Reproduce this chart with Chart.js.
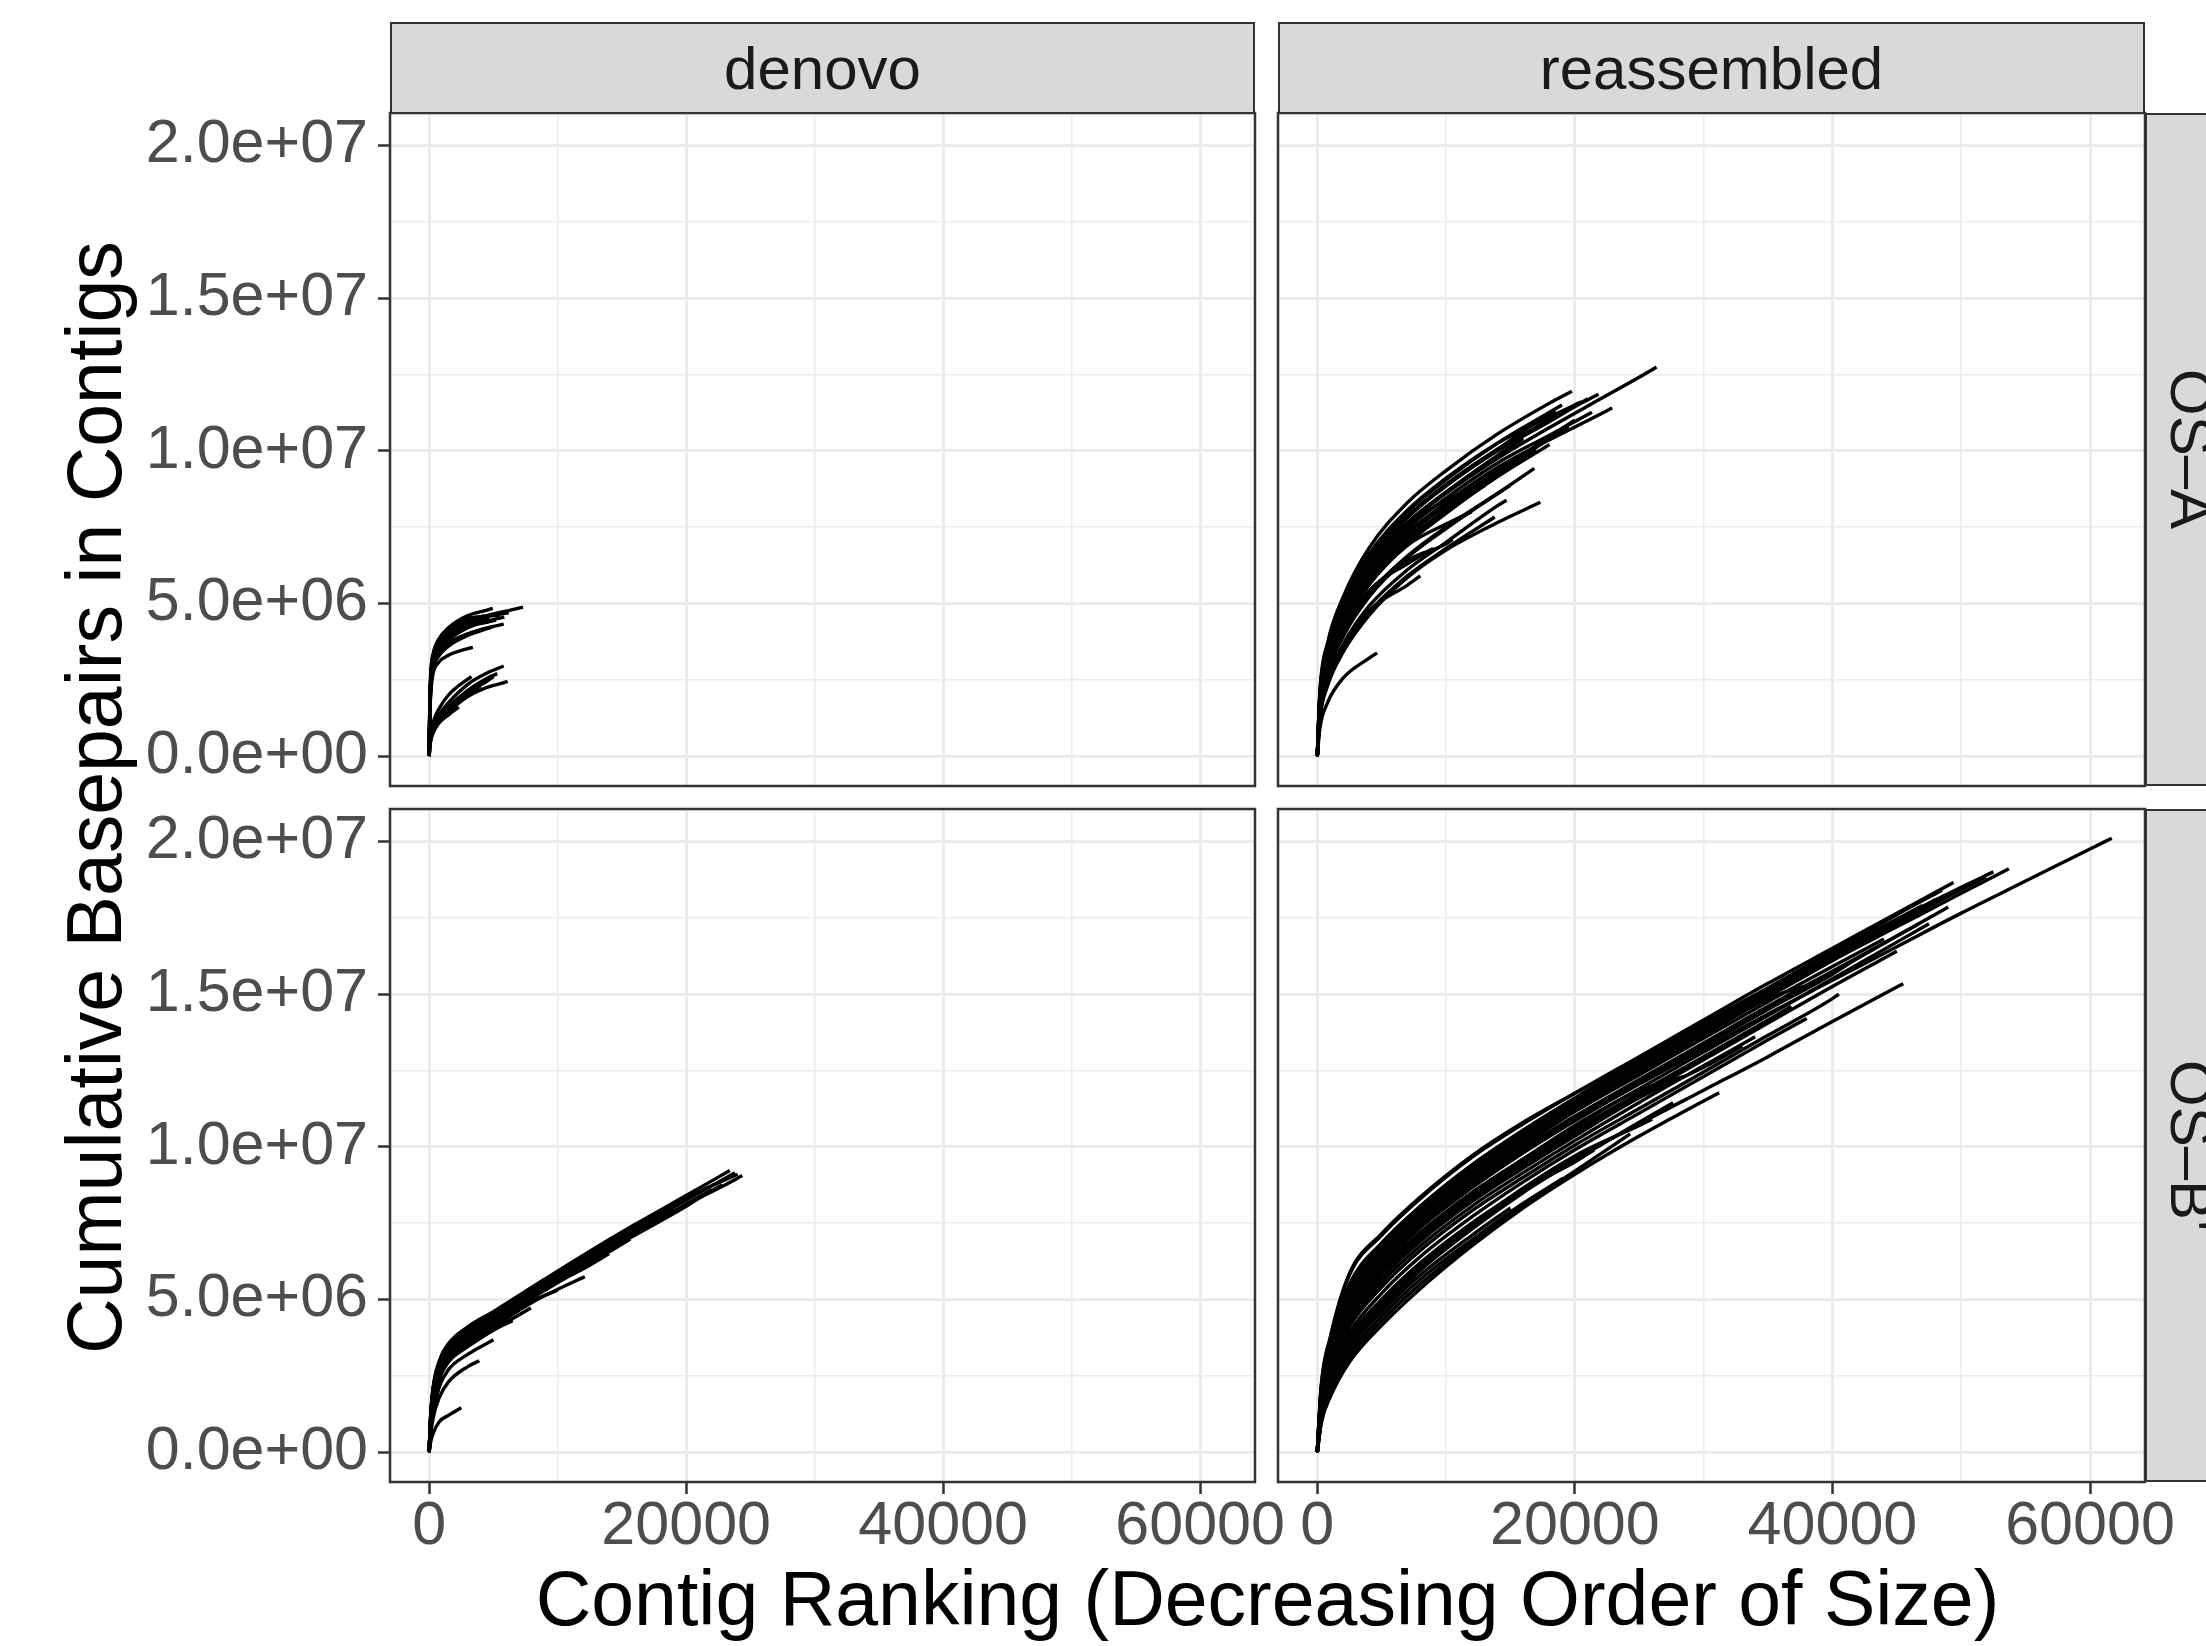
<!DOCTYPE html>
<html>
<head>
<meta charset="utf-8">
<script src="https://cdn.jsdelivr.net/npm/chart.js@4.4.1/dist/chart.umd.min.js"></script>
<style>
  body { margin: 0; width: 2206px; height: 1646px; overflow: hidden; position: relative; background: #fff;
         font-family: "Liberation Sans", Arial, sans-serif; }
  canvas { position: absolute; left: 0; top: 0; }
  .strip { position: absolute; background: #d9d9d9; border: 2.5px solid #333; box-sizing: border-box;
           color: #1a1a1a; font-size: 60px; display: flex; align-items: center; justify-content: center; }
  .strip.row { writing-mode: vertical-rl; }
  .title { position: absolute; color: #000; font-size: 77px; line-height: 77px; white-space: nowrap; }
</style>
</head>
<body>
<script>
// tick positions (shared by all four panels)
const xMajor = [0, 20000, 40000, 60000];
const xMinor = [10000, 30000, 50000];
const yMajor = [0, 5e6, 1e7, 1.5e7, 2e7];
const yMinor = [2.5e6, 7.5e6, 1.25e7, 1.75e7];
const colLabels = ['denovo', 'reassembled'];
const rowLabels = ['OS\u2013A', 'OS\u2013B\''];

// each curve: [last rank, Mbp at last rank, [Mbp at each rank of the grid below the last rank]]
const denovoA_rank = [0, 50, 150, 300, 700, 1500, 3000, 4500, 6000];
const denovoA_curves = [
  [7300, 4.88, [0, 1.6, 2.6, 3.1, 3.5, 3.9, 4.35, 4.6, 4.75]],
  [4950, 4.84, [0, 1.8, 2.9, 3.35, 3.8, 4.2, 4.6, 4.78]],
  [5850, 4.55, [0, 1.5, 2.5, 3.0, 3.4, 3.8, 4.2, 4.42]],
  [5800, 4.32, [0, 1.4, 2.4, 2.9, 3.3, 3.65, 4.0, 4.2]],
  [3400, 3.56, [0, 1.3, 2.2, 2.7, 3.05, 3.3, 3.52]],
  [4300, 4.6, [0, 1.7, 2.75, 3.2, 3.65, 4.05, 4.4]],
  [5200, 4.45, [0, 1.55, 2.55, 3.05, 3.5, 3.9, 4.25, 4.38]],
  [3900, 4.1, [0, 1.45, 2.45, 2.95, 3.35, 3.7, 4.0]],
  [5000, 4.25, [0, 1.35, 2.35, 2.85, 3.25, 3.6, 3.95, 4.17]],
  [6200, 4.7, [0, 1.65, 2.7, 3.15, 3.6, 4.0, 4.4, 4.58, 4.68]],
  [4700, 4.5, [0, 1.6, 2.65, 3.12, 3.55, 3.95, 4.32, 4.48]],
  [5500, 4.62, [0, 1.75, 2.8, 3.28, 3.72, 4.12, 4.5, 4.58]],
  [5800, 2.95, [0, 0.4, 0.7, 0.95, 1.3, 1.75, 2.35, 2.72]],
  [6100, 2.45, [0, 0.35, 0.6, 0.8, 1.1, 1.45, 1.95, 2.25, 2.43]],
  [3300, 2.6, [0, 0.45, 0.8, 1.1, 1.5, 2.0, 2.52]],
  [5300, 2.7, [0, 0.4, 0.65, 0.9, 1.2, 1.6, 2.15, 2.55]],
  [2300, 1.6, [0, 0.3, 0.55, 0.75, 1.05, 1.35]],
  [4000, 2.3, [0, 0.35, 0.6, 0.85, 1.15, 1.5, 2.0]],
  [5000, 2.6, [0, 0.38, 0.62, 0.88, 1.2, 1.6, 2.1, 2.45]]
];

const reassA_rank = [0, 200, 800, 2000, 4000, 7000, 10000, 14000, 18000, 22000, 26000];
const reassA_curves = [
  [26340, 12.74, [0, 1.8, 3.3, 4.7, 6.15, 7.6, 8.6, 9.75, 10.75, 11.7, 12.65]],
  [19770, 11.95, [0, 2.1, 3.7, 5.2, 6.8, 8.3, 9.35, 10.55, 11.55]],
  [21840, 11.85, [0, 1.9, 3.45, 4.9, 6.4, 7.85, 8.9, 10.05, 11.0]],
  [21330, 11.26, [0, 1.7, 3.2, 4.6, 6.05, 7.45, 8.45, 9.6, 10.5]],
  [20500, 11.6, [0, 2.0, 3.6, 5.05, 6.6, 8.05, 9.1, 10.25, 11.1]],
  [22900, 11.4, [0, 1.6, 3.1, 4.45, 5.9, 7.3, 8.3, 9.45, 10.35, 11.2]],
  [18040, 10.2, [0, 1.5, 2.9, 4.2, 5.6, 6.95, 7.95, 9.15, 10.19]],
  [16850, 9.42, [0, 1.4, 2.7, 3.9, 5.2, 6.5, 7.45, 8.6]],
  [17320, 8.31, [0, 1.2, 2.3, 3.4, 4.6, 5.85, 6.75, 7.65]],
  [14700, 8.38, [0, 1.3, 2.5, 3.65, 4.9, 6.1, 7.0, 8.2]],
  [14940, 8.85, [0, 1.5, 2.8, 4.0, 5.3, 6.55, 7.5, 8.6]],
  [13780, 7.83, [0, 1.25, 2.4, 3.5, 4.7, 5.9, 6.8]],
  [4650, 3.38, [0, 0.9, 1.75, 2.55, 3.2]],
  [19000, 11.5, [0, 2.0, 3.55, 5.0, 6.55, 8.0, 9.05, 10.25, 11.25]],
  [20000, 11.0, [0, 1.65, 3.1, 4.45, 5.85, 7.2, 8.2, 9.3, 10.45]],
  [15500, 9.8, [0, 1.7, 3.1, 4.45, 5.9, 7.25, 8.2, 9.35]],
  [12000, 8.0, [0, 1.6, 2.95, 4.25, 5.6, 6.9, 7.6]],
  [16000, 10.4, [0, 1.85, 3.35, 4.75, 6.25, 7.65, 8.65, 9.85]],
  [10500, 7.1, [0, 1.45, 2.75, 3.95, 5.25, 6.4, 6.95]],
  [11000, 8.6, [0, 1.9, 3.4, 4.8, 6.3, 7.55, 8.4]],
  [8000, 5.9, [0, 1.3, 2.45, 3.55, 4.75, 5.6]],
  [18500, 11.3, [0, 1.95, 3.5, 4.95, 6.45, 7.85, 8.85, 10.05, 11.2]],
  [21000, 11.7, [0, 1.85, 3.4, 4.85, 6.35, 7.8, 8.85, 10.0, 10.95]],
  [17000, 10.0, [0, 1.6, 3.0, 4.35, 5.75, 7.1, 8.05, 9.25]],
  [13000, 8.85, [0, 1.75, 3.2, 4.6, 6.05, 7.35, 8.15]],
  [9000, 6.8, [0, 1.5, 2.8, 4.05, 5.4, 6.3]],
  [19500, 10.8, [0, 1.55, 2.95, 4.3, 5.7, 7.05, 8.05, 9.2, 10.4]]
];

const denovoB_rank = [0, 100, 300, 800, 1500, 3000, 5000, 8000, 12000, 16000, 20000, 24000];
const denovoB_curves = [
  [23400, 9.22, [0, 1.1, 2.1, 3.0, 3.55, 4.1, 4.6, 5.4, 6.45, 7.45, 8.4]],
  [24360, 9.06, [0, 1.0, 1.95, 2.85, 3.4, 3.95, 4.45, 5.25, 6.25, 7.2, 8.1, 8.97]],
  [23800, 9.15, [0, 1.05, 2.0, 2.92, 3.48, 4.02, 4.52, 5.32, 6.35, 7.32, 8.25]],
  [22800, 8.75, [0, 0.95, 1.9, 2.8, 3.35, 3.9, 4.4, 5.2, 6.2, 7.15, 8.1]],
  [15650, 6.98, [0, 0.9, 1.8, 2.7, 3.25, 3.8, 4.3, 5.05, 6.05]],
  [12110, 5.74, [0, 0.8, 1.6, 2.5, 3.05, 3.6, 4.1, 4.9, 5.72]],
  [7920, 4.72, [0, 0.7, 1.5, 2.4, 2.95, 3.45, 4.0]],
  [5000, 3.68, [0, 0.6, 1.3, 2.15, 2.7, 3.2]],
  [3900, 2.99, [0, 0.5, 1.1, 1.8, 2.3, 2.8]],
  [2500, 1.45, [0, 0.3, 0.6, 1.0, 1.2]],
  [19000, 8.0, [0, 1.05, 2.05, 2.95, 3.5, 4.05, 4.55, 5.35, 6.4, 7.35]],
  [21500, 8.45, [0, 0.95, 1.85, 2.75, 3.3, 3.85, 4.35, 5.15, 6.15, 7.1, 8.05]],
  [17500, 7.6, [0, 1.0, 1.95, 2.88, 3.42, 3.97, 4.47, 5.27, 6.3, 7.25]],
  [24000, 9.1, [0, 1.08, 2.05, 2.95, 3.52, 4.07, 4.57, 5.37, 6.4, 7.4, 8.33]],
  [22000, 8.6, [0, 0.98, 1.92, 2.83, 3.38, 3.92, 4.42, 5.22, 6.22, 7.17, 8.12]],
  [20500, 8.2, [0, 1.02, 1.98, 2.9, 3.45, 4.0, 4.5, 5.3, 6.32, 7.3, 8.08]],
  [14000, 6.5, [0, 0.92, 1.85, 2.78, 3.32, 3.87, 4.37, 5.15, 6.0]],
  [10000, 5.3, [0, 0.85, 1.7, 2.6, 3.15, 3.7, 4.2, 4.95]],
  [6500, 4.3, [0, 0.75, 1.6, 2.45, 3.0, 3.55, 4.0]]
];

const reassB_rank = [0, 300, 1000, 2500, 5000, 8000, 12000, 16000, 20000, 25000, 30000, 35000, 40000, 45000, 50000, 55000, 60000];
const reassB_curves = [
  [61690, 20.1, [0, 1.8, 3.2, 4.9, 6.3, 7.5, 8.75, 9.85, 10.85, 12.05, 13.2, 14.35, 15.45, 16.55, 17.65, 18.7, 19.75]],
  [53700, 19.1, [0, 1.9, 3.4, 5.15, 6.6, 7.85, 9.15, 10.3, 11.35, 12.6, 13.8, 14.95, 16.1, 17.2, 18.3]],
  [51930, 18.83, [0, 2.0, 3.5, 5.3, 6.75, 8.0, 9.35, 10.5, 11.55, 12.75, 13.9, 15.05, 16.2, 17.3, 18.42]],
  [49400, 18.65, [0, 2.1, 3.7, 5.8, 7.1, 8.3, 9.65, 10.75, 11.75, 12.95, 14.15, 15.35, 16.5, 17.65]],
  [48500, 18.4, [0, 2.05, 3.6, 5.5, 6.85, 8.05, 9.4, 10.5, 11.55, 12.8, 14.0, 15.2, 16.4, 17.6]],
  [50200, 18.5, [0, 1.9, 3.4, 5.2, 6.6, 7.9, 9.2, 10.35, 11.4, 12.6, 13.8, 15.0, 16.2, 17.35, 18.46]],
  [46690, 17.29, [0, 1.8, 3.2, 4.95, 6.3, 7.55, 8.85, 9.95, 11.0, 12.2, 13.4, 14.6, 15.75, 16.9]],
  [45500, 15.34, [0, 1.3, 2.4, 3.75, 5.0, 6.2, 7.5, 8.6, 9.6, 10.75, 11.85, 12.95, 14.1, 15.23]],
  [36800, 14.6, [0, 1.6, 2.9, 4.5, 5.85, 7.05, 8.35, 9.45, 10.5, 11.75, 12.95, 14.15]],
  [31210, 11.77, [0, 0.95, 1.8, 2.95, 4.15, 5.35, 6.75, 8.0, 9.1, 10.35, 11.5]],
  [27630, 11.44, [0, 1.1, 2.1, 3.4, 4.7, 5.95, 7.3, 8.5, 9.55, 10.8]],
  [23830, 12.62, [0, 2.15, 3.75, 5.85, 7.15, 8.35, 9.7, 10.8, 11.75]],
  [30230, 12.95, [0, 1.65, 2.95, 4.55, 5.9, 7.1, 8.4, 9.5, 10.55, 11.75, 12.9]],
  [19060, 8.96, [0, 1.0, 1.95, 3.2, 4.45, 5.65, 6.95, 8.15]],
  [42000, 16.2, [0, 1.75, 3.1, 4.8, 6.2, 7.45, 8.75, 9.85, 10.9, 12.15, 13.35, 14.5, 15.65]],
  [48000, 18.1, [0, 1.85, 3.3, 5.05, 6.5, 7.75, 9.05, 10.2, 11.25, 12.5, 13.7, 14.9, 16.1, 17.3]],
  [47500, 17.3, [0, 1.65, 2.95, 4.55, 5.9, 7.15, 8.45, 9.6, 10.7, 11.9, 13.1, 14.3, 15.5, 16.7]],
  [38000, 14.2, [0, 1.35, 2.5, 3.9, 5.2, 6.4, 7.7, 8.85, 9.9, 11.1, 12.3, 13.5]],
  [24300, 10.42, [0, 0.95, 1.85, 3.05, 4.3, 5.5, 6.85, 8.1, 9.2]],
  [44000, 16.8, [0, 1.8, 3.25, 5.0, 6.4, 7.65, 8.95, 10.05, 11.15, 12.35, 13.55, 14.75, 15.9]],
  [34000, 13.6, [0, 1.5, 2.7, 4.2, 5.55, 6.75, 8.05, 9.15, 10.2, 11.45, 12.65]],
  [40500, 15.0, [0, 1.45, 2.65, 4.1, 5.4, 6.6, 7.9, 9.0, 10.05, 11.25, 12.45, 13.65, 14.85]],
  [28500, 12.3, [0, 1.7, 3.0, 4.65, 6.0, 7.2, 8.5, 9.6, 10.65, 11.85]],
  [49000, 17.85, [0, 1.7, 3.05, 4.7, 6.1, 7.35, 8.65, 9.8, 10.85, 12.1, 13.3, 14.5, 15.7, 16.9]],
  [52500, 19.0, [0, 2.0, 3.55, 5.4, 6.8, 8.05, 9.4, 10.55, 11.6, 12.85, 14.05, 15.2, 16.35, 17.45, 18.5]],
  [47000, 17.9, [0, 2.0, 3.5, 5.35, 6.7, 7.95, 9.3, 10.4, 11.45, 12.7, 13.9, 15.1, 16.3, 17.45]],
  [39000, 15.4, [0, 1.9, 3.35, 5.1, 6.5, 7.75, 9.05, 10.15, 11.2, 12.45, 13.65, 14.85]],
  [33000, 13.3, [0, 1.55, 2.8, 4.35, 5.7, 6.9, 8.2, 9.3, 10.35, 11.6, 12.6]],
  [26000, 10.9, [0, 1.2, 2.25, 3.6, 4.9, 6.1, 7.45, 8.65, 9.7, 10.7]],
  [21500, 9.9, [0, 1.15, 2.2, 3.5, 4.8, 6.05, 7.4, 8.6, 9.5]],
  [15000, 8.0, [0, 1.1, 2.05, 3.35, 4.6, 5.8, 7.1]],
  [45000, 16.4, [0, 1.55, 2.8, 4.35, 5.7, 6.95, 8.25, 9.4, 10.45, 11.65, 12.85, 14.05, 15.25]]
];

const xRange = [-3050, 64270];
const yRange = [-0.98e6, 21.06e6];

// panel boxes in page pixels: left, top, right, bottom
const panels = [
  { rank: denovoA_rank, curves: denovoA_curves, box: [390, 113, 1255, 786], xLab: false, yLab: true },
  { rank: reassA_rank, curves: reassA_curves, box: [1278, 113, 2145, 786], xLab: false, yLab: false },
  { rank: denovoB_rank, curves: denovoB_curves, box: [390, 809, 1255, 1482], xLab: true, yLab: true },
  { rank: reassB_rank, curves: reassB_curves, box: [1278, 809, 2145, 1482], xLab: true, yLab: false }
];

function toPoints(grid, curve) {
  const [endRank, endMbp, ys] = curve;
  const pts = ys.map((y, i) => ({ x: grid[i], y: y * 1e6 }));
  pts.push({ x: endRank, y: endMbp * 1e6 });
  return pts;
}

function sciLabel(v) {
  return v.toExponential(1).replace(/e([+-])(\d)$/, (m, s, d) => 'e' + s + '0' + d);
}

// size = room the axis takes outside the panel (labels are clipped to it)
function axis(dir, showLabels, size) {
  const major = dir === 'x' ? xMajor : yMajor;
  const all = major.concat(dir === 'x' ? xMinor : yMinor).sort((a, b) => a - b);
  const isMajor = v => major.includes(v);
  const range = dir === 'x' ? xRange : yRange;
  return {
    type: 'linear',
    min: range[0],
    max: range[1],
    afterBuildTicks: s => { s.ticks = all.map(v => ({ value: v })); },
    afterFit: s => { if (dir === 'x') s.height = size; else s.width = size; },
    border: { display: false },
    grid: {
      color: '#ebebeb',
      lineWidth: c => (c.tick && isMajor(c.tick.value)) ? 3 : 1.5,
      drawTicks: showLabels,
      tickLength: 12,
      tickWidth: 2.5,
      tickColor: c => (c.tick && isMajor(c.tick.value)) ? '#333333' : 'rgba(0,0,0,0)'
    },
    ticks: {
      display: showLabels,
      autoSkip: false,
      maxRotation: 0,
      minRotation: 0,
      padding: dir === 'x' ? -3 : 10,
      color: '#4d4d4d',
      font: { family: 'Liberation Sans', size: 61 },
      callback: v => isMajor(v) ? (dir === 'x' ? String(v) : sciLabel(v)) : ''
    }
  };
}

// dark frame round each panel, drawn over the lines
const panelBorder = {
  id: 'panelBorder',
  afterDraw(chart) {
    const a = chart.chartArea, ctx = chart.ctx;
    ctx.save();
    ctx.strokeStyle = '#333333';
    ctx.lineWidth = 2.5;
    ctx.strokeRect(a.left, a.top, a.right - a.left, a.bottom - a.top);
    ctx.restore();
  }
};

panels.forEach(p => {
  const cv = document.createElement('canvas');
  cv.width = 2206;
  cv.height = 1646;
  document.body.appendChild(cv);
  const [L, T, R, B] = p.box;
  const ySize = p.yLab ? L : 0;
  const xSize = p.xLab ? 1646 - B : 0;
  new Chart(cv.getContext('2d'), {
    type: 'line',
    data: {
      datasets: p.curves.map(c => ({
        data: toPoints(p.rank, c),
        borderColor: '#000',
        borderWidth: 3.4,
        pointRadius: 0,
        cubicInterpolationMode: 'monotone',
        fill: false
      }))
    },
    options: {
      responsive: false,
      animation: false,
      devicePixelRatio: 1,
      layout: { padding: { left: L - ySize, top: T, right: 2206 - R, bottom: 1646 - B - xSize } },
      plugins: { legend: { display: false }, tooltip: { enabled: false } },
      scales: { x: axis('x', p.xLab, xSize), y: axis('y', p.yLab, ySize) }
    },
    plugins: [panelBorder]
  });
});

// facet strips and axis titles
function addDiv(cls, text, css) {
  const d = document.createElement('div');
  d.className = cls;
  d.textContent = text;
  Object.assign(d.style, css);
  document.body.appendChild(d);
}
addDiv('strip', colLabels[0], { left: '390px', top: '22px', width: '865px', height: '92px' });
addDiv('strip', colLabels[1], { left: '1278px', top: '22px', width: '867px', height: '92px' });
addDiv('strip row', rowLabels[0], { left: '2145px', top: '113px', width: '92px', height: '673px' });
addDiv('strip row', rowLabels[1], { left: '2145px', top: '809px', width: '92px', height: '673px' });
addDiv('title', 'Contig Ranking (Decreasing Order of Size)',
  { left: '390px', top: '1560px', width: '1755px', textAlign: 'center' });
addDiv('title', 'Cumulative Basepairs in Contigs',
  { left: '56px', top: '113px', width: '77px', height: '1369px', writingMode: 'vertical-rl',
    transform: 'rotate(180deg)', display: 'flex', alignItems: 'center', justifyContent: 'center' });
</script>
</body>
</html>
